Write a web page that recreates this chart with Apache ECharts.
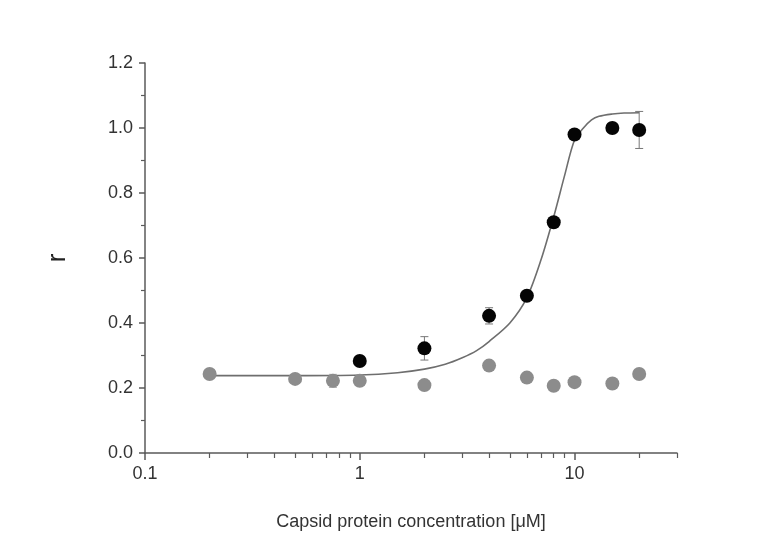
<!DOCTYPE html>
<html>
<head>
<meta charset="utf-8">
<script src="https://cdn.jsdelivr.net/npm/echarts@6/dist/echarts.min.js"></script>
<style>
  html, body { margin: 0; padding: 0; background: #fff; }
  #chart { width: 775px; height: 545px; }
</style>
</head>
<body>
<div id="chart"></div>
<script>
// binding data
const concBlack = [1, 2, 4, 6, 8, 10, 15, 20];
const rBlack = [0.283, 0.322, 0.422, 0.484, 0.71, 0.98, 1.0, 0.994];
const errBlack = [0.015, 0.036, 0.025, 0.01, 0.012, 0.012, 0.015, 0.057];

const concGray = [0.2, 0.5, 0.75, 1, 2, 4, 6, 8, 10, 15, 20];
const rGray = [0.243, 0.228, 0.222, 0.222, 0.209, 0.269, 0.232, 0.207, 0.218, 0.214, 0.243];
const errGray = [0.005, 0.012, 0.02, 0.008, 0.008, 0.008, 0.008, 0.005, 0.005, 0.005, 0.005];

// fitted curve
const fitConc = [0.2, 0.5, 1, 1.5, 2, 2.5, 3, 3.5, 4, 5, 6, 7, 8, 9, 10, 11, 12, 13, 15, 17, 20];
const fitR = [0.238, 0.238, 0.240, 0.247, 0.258, 0.273, 0.293, 0.315, 0.343, 0.40, 0.478, 0.597, 0.727, 0.855, 0.963, 1.0, 1.025, 1.036, 1.043, 1.046, 1.047];

// axis ticks
const xMajorTicks = [0.1, 1, 10];
const xMinorTicks = [0.2, 0.3, 0.4, 0.5, 0.6, 0.7, 0.8, 0.9, 2, 3, 4, 5, 6, 7, 8, 9, 20, 30];

const font = '"Liberation Sans", Arial, sans-serif';
const axisColor = '#5a5a5a';

const zip = (xs, ys) => xs.map((x, i) => [x, ys[i]]);
const errData = (xs, ys, es) => xs.map((x, i) => [x, ys[i] - es[i], ys[i] + es[i]]);

const errorBar = (color) => (params, api) => {
  const lo = api.coord([api.value(0), api.value(1)]);
  const hi = api.coord([api.value(0), api.value(2)]);
  const w = 4;
  const style = { stroke: color, lineWidth: 1 };
  return {
    type: 'group',
    children: [
      { type: 'line', shape: { x1: lo[0], y1: lo[1], x2: hi[0], y2: hi[1] }, style },
      { type: 'line', shape: { x1: lo[0] - w, y1: lo[1], x2: lo[0] + w, y2: lo[1] }, style },
      { type: 'line', shape: { x1: hi[0] - w, y1: hi[1], x2: hi[0] + w, y2: hi[1] }, style }
    ]
  };
};

const chart = echarts.init(document.getElementById('chart'));

const option = {
  backgroundColor: '#fff',
  animation: false,
  grid: { left: 145, right: 98, top: 63, bottom: 92 },
  xAxis: [
    {
      type: 'log',
      logBase: 10,
      min: 0.1,
      max: 30,
      name: 'Capsid protein concentration [μM]',
      nameLocation: 'middle',
      nameGap: 60,
      nameTextStyle: { color: '#333', fontSize: 18, fontFamily: font },
      axisLine: { lineStyle: { color: axisColor, width: 1.5 } },
      axisTick: { customValues: xMajorTicks, length: 7, lineStyle: { color: axisColor, width: 1.5 } },
      axisLabel: {
        customValues: xMajorTicks,
        color: '#333', fontSize: 18, fontFamily: font, margin: 12,
        formatter: (v) => String(v)
      },
      splitLine: { show: false }
    },
    {
      type: 'log',
      logBase: 10,
      min: 0.1,
      max: 30,
      position: 'bottom',
      axisLine: { show: false },
      axisTick: { customValues: xMinorTicks, length: 5, lineStyle: { color: axisColor, width: 1.2 } },
      axisLabel: { show: false },
      splitLine: { show: false }
    }
  ],
  yAxis: {
    type: 'value',
    min: 0,
    max: 1.2,
    interval: 0.2,
    name: 'r',
    nameLocation: 'middle',
    nameGap: 74,
    nameTextStyle: { color: '#222', fontSize: 26, fontFamily: font },
    axisLine: { show: true, lineStyle: { color: axisColor, width: 1.5 } },
    axisTick: { show: true, length: 6, lineStyle: { color: axisColor, width: 1.5 } },
    minorTick: { show: true, splitNumber: 2, length: 4, lineStyle: { color: axisColor, width: 1.2 } },
    axisLabel: {
      color: '#333', fontSize: 18, fontFamily: font, margin: 12,
      formatter: (v) => v.toFixed(1)
    },
    splitLine: { show: false }
  },
  series: [
    {
      name: 'fit',
      type: 'line',
      data: zip(fitConc, fitR),
      smooth: 0.3,
      showSymbol: false,
      lineStyle: { color: '#6e6e6e', width: 1.6 },
      z: 1
    },
    {
      name: 'black err',
      type: 'custom',
      renderItem: errorBar('#777'),
      data: errData(concBlack, rBlack, errBlack),
      z: 2
    },
    {
      name: 'gray err',
      type: 'custom',
      renderItem: errorBar('#aaa'),
      data: errData(concGray, rGray, errGray),
      z: 2
    },
    {
      name: 'with RNA',
      type: 'scatter',
      data: zip(concBlack, rBlack),
      symbolSize: 14,
      itemStyle: { color: '#050505', opacity: 1 },
      z: 3
    },
    {
      name: 'control',
      type: 'scatter',
      data: zip(concGray, rGray),
      symbolSize: 14,
      itemStyle: { color: '#8c8c8c', opacity: 1 },
      z: 4
    }
  ]
};

chart.setOption(option);
</script>
</body>
</html>
